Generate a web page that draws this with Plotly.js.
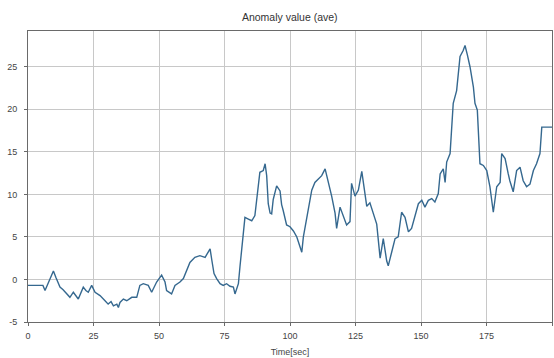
<!DOCTYPE html>
<html>
<head>
<meta charset="utf-8">
<script src="https://cdn.plot.ly/plotly-3.0.1.min.js"></script>
<style>
  html, body { margin: 0; padding: 0; background: #ffffff; }
  #chart { width: 554px; height: 358px; }
</style>
</head>
<body>
<div id="chart"></div>
<script>
// Elapsed time in seconds
const timeSec = [
  0.0, 5.7, 6.5, 8.0, 9.7, 10.7, 12.2, 13.4, 14.8, 16.0,
  17.3, 18.1, 19.2, 21.1, 22.1, 23.0, 24.3, 25.6, 27.5, 29.4,
  30.6, 31.7, 32.6, 33.9, 34.5, 35.1, 36.4, 37.7, 39.6, 41.5,
  42.7, 44.0, 45.9, 47.2, 49.1, 51.0, 52.3, 52.9, 54.8, 56.1,
  58.0, 59.3, 60.6, 61.8, 63.7, 65.6, 67.6, 69.5, 70.2, 71.0,
  72.0, 73.3, 74.5, 75.8, 77.1, 78.4, 79.0, 80.3, 80.9, 81.6,
  82.8, 84.1, 85.4, 86.6, 87.3, 88.5, 89.8, 90.5, 91.1, 91.7,
  92.4, 93.0, 93.6, 94.9, 96.2, 96.8, 97.4, 98.7, 100.0, 101.3,
  102.6, 103.2, 103.8, 104.5, 105.1, 106.4, 107.6, 108.3, 109.5, 110.8,
  112.1, 113.4, 114.6, 115.9, 117.2, 117.8, 119.1, 120.3, 121.6, 122.9,
  123.5, 124.8, 126.1, 127.4, 128.0, 129.3, 130.5, 131.8, 133.1, 134.4,
  135.6, 136.9, 137.5, 138.8, 140.1, 141.3, 142.6, 143.9, 145.2, 146.4,
  147.7, 149.0, 150.3, 151.5, 152.8, 154.1, 155.3, 156.6, 157.3, 158.5,
  159.2, 159.8, 161.1, 161.7, 162.3, 163.6, 164.9, 166.1, 166.8, 167.7,
  168.7, 170.0, 170.6, 171.5, 171.9, 172.5, 173.8, 175.1, 176.3, 177.6,
  178.9, 180.2, 180.8, 182.1, 183.3, 183.9, 185.2, 186.5, 187.8, 189.0,
  190.3, 191.6, 192.9, 194.1, 195.4, 196.1, 200.0
];

// Averaged anomaly value at each time
const anomalyAve = [
  -0.7, -0.7, -1.3, -0.2, 1.0, 0.2, -0.9, -1.2, -1.7, -2.1,
  -1.5, -1.8, -2.3, -0.9, -1.3, -1.5, -0.7, -1.5, -1.9, -2.5,
  -2.9, -2.6, -3.1, -2.9, -3.3, -2.7, -2.3, -2.5, -2.1, -2.1,
  -0.7, -0.5, -0.7, -1.5, -0.3, 0.5, -0.3, -1.3, -1.7, -0.7,
  -0.3, 0.1, 1.1, 2.0, 2.6, 2.8, 2.6, 3.6, 2.2, 0.7,
  0.1, -0.5, -0.7, -0.5, -0.8, -0.9, -1.7, -0.5, 1.5, 3.5,
  7.3, 7.1, 6.9, 7.5, 9.7, 12.6, 12.8, 13.6, 12.2, 8.9,
  7.8, 7.7, 9.4, 11.0, 10.4, 8.8, 8.1, 6.4, 6.2, 5.7,
  5.0, 4.4, 3.8, 3.2, 5.0, 7.3, 9.5, 10.5, 11.4, 11.8,
  12.2, 13.0, 11.6, 9.8, 7.8, 6.0, 8.5, 7.4, 6.4, 6.8,
  11.3, 9.8, 10.5, 12.7, 11.4, 8.6, 9.0, 7.7, 6.5, 2.5,
  4.8, 2.2, 1.6, 3.2, 4.8, 5.0, 7.9, 7.3, 5.6, 6.0,
  7.3, 8.9, 9.3, 8.5, 9.3, 9.5, 9.1, 10.1, 12.4, 13.0,
  11.4, 13.8, 14.8, 17.5, 20.7, 22.2, 26.2, 26.9, 27.5, 26.4,
  25.0, 22.6, 20.7, 19.9, 17.1, 13.6, 13.4, 12.8, 10.9, 7.9,
  10.9, 11.4, 14.8, 14.2, 12.4, 11.6, 10.3, 12.8, 13.2, 11.6,
  10.9, 11.2, 12.8, 13.6, 14.8, 17.9, 17.9
];

const xTicks = [0, 25, 50, 75, 100, 125, 150, 175, 200];
const yTicks = [-5, 0, 5, 10, 15, 20, 25];

const FONT = '"Liberation Sans Narrow", "Liberation Sans", Arial, sans-serif';

const trace = {
  x: timeSec,
  y: anomalyAve,
  type: 'scatter',
  mode: 'lines',
  line: { color: '#35688f', width: 1.4 },
  hoverinfo: 'skip'
};

const axisCommon = {
  showgrid: true,
  gridcolor: '#c8c8c8',
  gridwidth: 1,
  showline: true,
  linecolor: '#6a6a6a',
  linewidth: 1,
  mirror: true,
  ticks: 'outside',
  ticklen: 3,
  tickcolor: '#6a6a6a',
  zeroline: false,
  tickfont: { family: FONT, size: 9, color: '#444444' }
};

const layout = {
  width: 554,
  height: 358,
  margin: { l: 28, r: 2, t: 31, b: 36 },
  paper_bgcolor: '#ffffff',
  plot_bgcolor: '#ffffff',
  showlegend: false,
  title: {
    text: 'Anomaly value (ave)',
    font: { family: FONT, size: 10.5, color: '#333333' },
    x: 0.523,
    xanchor: 'center',
    y: 1 - 17 / 358,
    yanchor: 'middle',
    yref: 'container'
  },
  xaxis: Object.assign({}, axisCommon, {
    range: [0, 200],
    tickmode: 'array',
    tickvals: xTicks,
    ticktext: xTicks.map(String),
    ticklabelstandoff: 2,
    title: { text: 'Time[sec]', font: { family: FONT, size: 9, color: '#444444' }, standoff: 8 }
  }),
  yaxis: Object.assign({}, axisCommon, {
    range: [-5, 29.2],
    tickmode: 'array',
    tickvals: yTicks,
    ticktext: yTicks.map(String),
    ticklabelstandoff: 5
  })
};

Plotly.newPlot('chart', [trace], layout, { displayModeBar: false, staticPlot: true });
</script>
</body>
</html>
